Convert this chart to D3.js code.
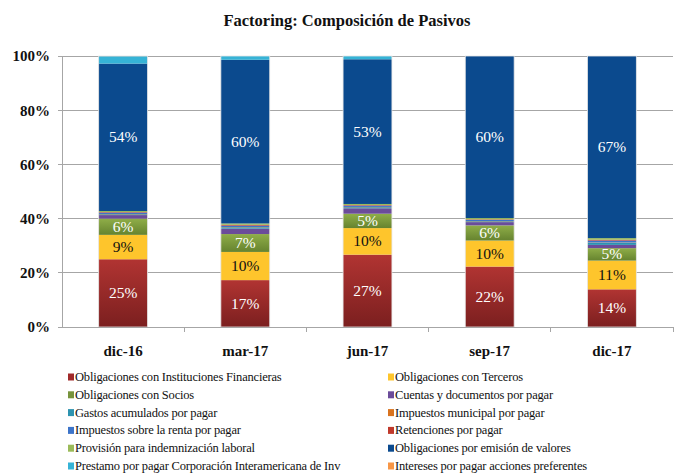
<!DOCTYPE html>
<html><head><meta charset="utf-8">
<script src="https://cdn.jsdelivr.net/npm/d3@7"></script>
<style>
body{margin:0;background:#fff;}
svg{display:block;font-family:"Liberation Serif","DejaVu Serif",serif;}
</style></head>
<body>
<svg id="chart" width="681" height="474"></svg>
<script>
const categories = ["dic-16","mar-17","jun-17","sep-17","dic-17"];
const seriesNames = [
  "Obligaciones con Instituciones Financieras",
  "Obligaciones con Terceros",
  "Obligaciones con Socios",
  "Cuentas y documentos por pagar",
  "Gastos acumulados por pagar",
  "Impuestos municipal por pagar",
  "Impuestos sobre la renta por pagar",
  "Retenciones por pagar",
  "Provisión para indemnización laboral",
  "Obligaciones por emisión de valores",
  "Prestamo por pagar Corporación Interamericana de Inv",
  "Intereses por pagar acciones preferentes"
];
// values in % per series, per category
const instFinancieras = [25.0, 17.3, 26.7, 22.3, 13.9];
const terceros        = [9.0, 10.4, 9.8, 9.6, 10.6];
const socios          = [6.0, 6.6, 5.3, 5.6, 4.6];
const cuentas         = [1.3, 2.0, 2.0, 1.2, 1.2];
const gastos          = [0.3, 0.5, 0.4, 0.3, 0.8];
const impMunicipal    = [0.1, 0.1, 0.1, 0.1, 0.1];
const impRenta        = [0.5, 0.5, 0.5, 0.4, 0.7];
const retenciones     = [0.2, 0.3, 0.2, 0.2, 0.3];
const provision       = [0.4, 0.5, 0.4, 0.5, 0.6];
const emision         = [54.4, 60.4, 53.4, 59.8, 67.2];
const prestamoCII     = [2.7, 1.4, 1.2, 0.0, 0.0];
const intereses       = [0.0, 0.0, 0.0, 0.0, 0.0];
const yTicks = [0, 0.2, 0.4, 0.6, 0.8, 1.0];
const labeledSeries = [0, 1, 2, 9];

const FONT = "Liberation Serif, DejaVu Serif, serif";
const seriesValues = [instFinancieras, terceros, socios, cuentas, gastos, impMunicipal,
  impRenta, retenciones, provision, emision, prestamoCII, intereses];
const colors = ["url(#gRed)","#fec52c","url(#gGreen)","#6b4c9a","#2d93b0","#d9731f",
  "#3c74c9","#c0392b","#9bbb59","#0b4a8e","#36b3d6","#f79646"];
const swatchColors = ["#a02a2a","#fec52c","#77933c","#6b4c9a","#2d93b0","#d9731f",
  "#3c74c9","#c0392b","#9bbb59","#0b4a8e","#36b3d6","#f79646"];
const labelColors = ["#fff","#111","#fff",null,null,null,null,null,null,"#fff",null,null];

const svg = d3.select("#chart");
const defs = svg.append("defs");
function grad(id, c1, c2){
  const g = defs.append("linearGradient").attr("id", id).attr("x1",0).attr("y1",0).attr("x2",0).attr("y2",1);
  g.append("stop").attr("offset","0%").attr("stop-color",c1);
  g.append("stop").attr("offset","100%").attr("stop-color",c2);
}
grad("gRed", "#b13432", "#7b1f1f");
grad("gGreen", "#8fae48", "#66832f");

const pL = 62, pR = 673, pT = 56, pB = 327;
const x = d3.scaleBand().domain(categories).range([pL, pR]).paddingInner(0.6).paddingOuter(0.3);
const xb = d3.scaleBand().domain(categories).range([pL, pR]);
const y = d3.scaleLinear().domain([0, 1]).range([pB, pT]);

// title
svg.append("text").attr("x", 347).attr("y", 26).attr("text-anchor","middle")
  .attr("font-family", FONT).attr("font-weight","bold").attr("font-size", 16.5).attr("fill","#111")
  .text("Factoring: Composición de Pasivos");

// gridlines
svg.append("g").selectAll("line").data(yTicks).join("line")
  .attr("x1", pL - 4).attr("x2", pR).attr("y1", d => y(d)).attr("y2", d => y(d))
  .attr("stroke", "#a6a6a6").attr("stroke-width", 1).attr("shape-rendering","crispEdges");

// y axis
const yAxis = d3.axisLeft(y).tickValues(yTicks).tickFormat(d3.format(".0%")).tickSize(0).tickPadding(12);
const gy = svg.append("g").attr("transform", `translate(${pL},0)`).call(yAxis);
gy.select(".domain").attr("stroke","#a6a6a6").attr("shape-rendering","crispEdges");
gy.selectAll("text").attr("font-family", FONT).attr("font-weight","bold")
  .attr("font-size", 15).attr("fill","#111");

// stacked data
const table = categories.map((c, i) => {
  const o = {cat: c};
  seriesValues.forEach((s, k) => o["s" + k] = s[i] / 100);
  return o;
});
const keys = seriesValues.map((s, k) => "s" + k);
const stacked = d3.stack().keys(keys)(table);

const gBars = svg.append("g");
stacked.forEach((layer, k) => {
  gBars.append("g").attr("fill", colors[k]).selectAll("rect").data(layer).join("rect")
    .attr("x", d => x(d.data.cat)).attr("width", x.bandwidth())
    .attr("y", d => y(d[1])).attr("height", d => Math.max(0, y(d[0]) - y(d[1])));
});
gBars.append("g").selectAll("rect").data(categories).join("rect")
  .attr("x", d => x(d)).attr("width", x.bandwidth()).attr("y", y(1)).attr("height", y(0) - y(1))
  .attr("fill","none").attr("stroke","#e6e6e6").attr("stroke-width",0.8);

// labels
labeledSeries.forEach(k => {
  svg.append("g").selectAll("text").data(stacked[k]).join("text")
    .attr("x", d => x(d.data.cat) + x.bandwidth() / 2)
    .attr("y", d => (y(d[0]) + y(d[1])) / 2 + 5)
    .attr("text-anchor","middle").attr("font-family", FONT).attr("font-size", 15.5)
    .attr("fill", labelColors[k])
    .text(d => Math.round((d[1] - d[0]) * 100) + "%");
});

// x axis
const xAxis = d3.axisBottom(xb).tickSize(0).tickPadding(15);
const gx = svg.append("g").attr("transform", `translate(0,${pB})`).call(xAxis);
gx.select(".domain").attr("stroke","#a6a6a6").attr("shape-rendering","crispEdges");
gx.selectAll("text").attr("font-family", FONT).attr("font-weight","bold")
  .attr("font-size", 15).attr("fill","#111").attr("dy","0.9em");
const bounds = categories.slice(1).map(c => xb(c)).concat([pR]);
gx.append("g").selectAll("line").data(bounds).join("line")
  .attr("x1", d => d).attr("x2", d => d).attr("y1", 0).attr("y2", 5)
  .attr("stroke","#a6a6a6").attr("shape-rendering","crispEdges");

// legend
const leg = svg.append("g");
seriesNames.forEach((name, i) => {
  const col = i % 2, row = Math.floor(i / 2);
  const lx = col === 0 ? 68 : 388;
  const ly = 377 + row * 17.8;
  leg.append("rect").attr("x", lx).attr("y", ly - 3.5).attr("width", 6).attr("height", 7).attr("fill", swatchColors[i]);
  leg.append("text").attr("x", lx + 7).attr("y", ly + 4).attr("font-family", FONT).attr("font-size", 12.5)
    .attr("letter-spacing", -0.2).attr("fill","#111").text(name);
});
</script>
</body></html>
